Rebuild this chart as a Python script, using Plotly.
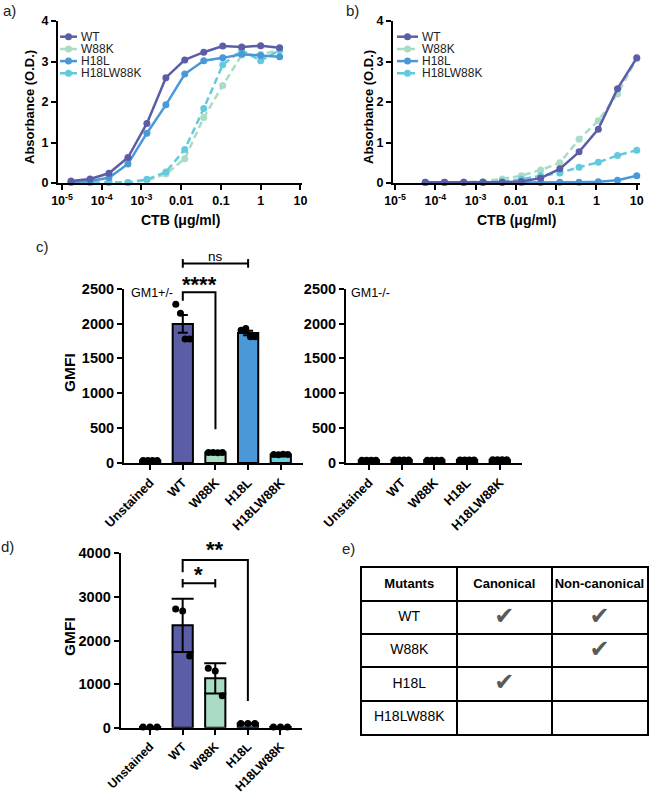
import numpy as np
import plotly.graph_objects as go

W, H = 650, 796
FONT = "Liberation Sans, Arial, sans-serif"

# ---------------- DATA ----------------
series = ["WT", "W88K", "H18L", "H18LW88K"]
series_colors = ["#5b5ea6", "#a8dcc5", "#4a98d8", "#62cadf"]
series_dash = ["solid", "7px,4px", "solid", "7px,4px"]

# panel a: CTB concentration (ug/ml)
conc_a = [1.69e-5, 5.08e-5, 1.52e-4, 4.57e-4, 1.37e-3, 4.12e-3,
          0.0123, 0.037, 0.111, 0.333, 1.0, 3.0]
abs_a_WT = [0.05, 0.10, 0.24, 0.63, 1.47, 2.60, 3.04, 3.23, 3.38, 3.36, 3.39, 3.34]
abs_a_W88K = [0.01, 0.01, 0.01, 0.01, 0.07, 0.22, 0.60, 1.62, 2.41, 3.16, 3.18, 3.28]
abs_a_H18L = [0.02, 0.05, 0.13, 0.47, 1.23, 1.93, 2.69, 3.02, 3.09, 3.18, 3.15, 3.12]
abs_a_H18LW88K = [0.02, 0.01, 0.01, 0.01, 0.09, 0.27, 0.83, 1.84, 2.92, 3.28, 3.02, 3.28]

# panel b
conc_b = [5.65e-5, 1.69e-4, 5.08e-4, 1.52e-3, 4.57e-3, 0.0137,
          0.0412, 0.123, 0.370, 1.11, 3.33, 10.0]
abs_b_WT = [0.02, 0.02, 0.02, 0.02, 0.02, 0.04, 0.12, 0.35, 0.77, 1.33, 2.33, 3.09]
abs_b_W88K = [0.02, 0.02, 0.02, 0.04, 0.10, 0.18, 0.32, 0.50, 1.08, 1.54, 2.20, 3.07]
abs_b_H18L = [0.01, 0.01, 0.01, 0.01, 0.01, 0.01, 0.01, 0.02, 0.02, 0.03, 0.07, 0.18]
abs_b_H18LW88K = [0.02, 0.02, 0.02, 0.02, 0.04, 0.09, 0.18, 0.25, 0.39, 0.51, 0.68, 0.81]

conc_ticks = [1e-5, 1e-4, 1e-3, 0.01, 0.1, 1, 10]
conc_ticktext = ["10<sup>-5</sup>", "10<sup>-4</sup>", "10<sup>-3</sup>", "0.01", "0.1", "1", "10"]

# panels c, d: GMFI per replicate
groups = ["Unstained", "WT", "W88K", "H18L", "H18LW88K"]
bar_colors = ["#ffffff", "#5b5ea6", "#a8dcc5", "#4a98d8", "#6dcfe0"]
gmfi_c_pos = [[35, 35, 35, 35], [2276, 2147, 1779, 1779], [150, 150, 148, 152],
              [1905, 1930, 1812, 1812], [122, 120, 125, 122]]
gmfi_c_neg = [[38, 38, 38, 38], [42, 42, 42, 42], [40, 40, 40, 40],
              [42, 42, 42, 42], [45, 45, 45, 45]]
gmfi_d = [[15, 15, 15], [2724, 2678, 1645], [1363, 1301, 734], [95, 95, 95], [15, 15, 15]]

# significance brackets: (from, to, level, left end, right end, label, style)
sig_c = [(1, 3, 2863, None, None, "ns", "cap"),
         (1, 2, 2448, 2328, 483, "****", "leg")]
sig_d = [(1, 3, 3849, 3566, 612, "**", "leg"),
         (1, 2, 3313, None, None, "*", "cap")]

# panel e table
table_header = ["Mutants", "Canonical", "Non-canonical"]
mutants = ["WT", "W88K", "H18L", "H18LW88K"]
canonical = [True, False, True, False]
non_canonical = [True, True, False, False]

# ---------------- LAYOUT HELPERS ----------------
def dx(p):
    return p / W


def dy(p):
    return 1 - p / H


def xdom(a, b):
    return [dx(a), dx(b)]


def ydom(top, bottom):
    return [dy(bottom), dy(top)]


def axis_style(size):
    return dict(showline=True, linecolor="black", linewidth=2, ticks="outside",
                ticklen=5, tickwidth=2, tickcolor="black", showgrid=False,
                zeroline=False, automargin=False,
                tickfont=dict(family=FONT, size=size, color="black", weight="bold"))


fig = go.Figure()
annotations = []

# ---------------- PANELS a, b ----------------
curves_a = [abs_a_WT, abs_a_W88K, abs_a_H18L, abs_a_H18LW88K]
curves_b = [abs_b_WT, abs_b_W88K, abs_b_H18L, abs_b_H18LW88K]
for xa, ya, conc, curves in [("x", "y", conc_a, curves_a), ("x2", "y2", conc_b, curves_b)]:
    for i in [1, 3, 2, 0]:
        fig.add_trace(go.Scatter(
            x=conc, y=curves[i], mode="lines+markers", name=series[i],
            line=dict(color=series_colors[i], width=2.5, dash=series_dash[i]),
            marker=dict(color=series_colors[i], size=7),
            cliponaxis=False, showlegend=False, xaxis=xa, yaxis=ya))

fig.update_layout(
    xaxis=dict(domain=xdom(58, 302), type="log", range=[-5.1, 1.04], anchor="y",
               tickvals=conc_ticks, ticktext=conc_ticktext, **axis_style(12.5)),
    yaxis=dict(domain=ydom(21, 183), range=[0, 4], dtick=1, anchor="x", **axis_style(12.5)),
    xaxis2=dict(domain=xdom(393, 640), type="log", range=[-5.05, 1.08], anchor="y2",
                tickvals=conc_ticks, ticktext=conc_ticktext, **axis_style(12.5)),
    yaxis2=dict(domain=ydom(21, 183), range=[0, 4], dtick=1, anchor="x2", **axis_style(12.5)),
)

# compact legends drawn on a pixel overlay axis
fig.update_layout(
    xaxis9=dict(domain=[0, 1], range=[0, W], visible=False, anchor="y9", automargin=False),
    yaxis9=dict(domain=[0, 1], range=[H, 0], visible=False, anchor="x9", automargin=False),
)
for (lx0, lx1, ltx) in [(60, 77, 79), (397, 418, 420)]:
    for i, s in enumerate(series):
        ly = 36.7 + 12.2 * i
        fig.add_trace(go.Scatter(
            x=[lx0, (lx0 + lx1) / 2, lx1], y=[ly, ly, ly], mode="lines",
            line=dict(color=series_colors[i], width=2.5, dash=series_dash[i]),
            showlegend=False, xaxis="x9", yaxis="y9", hoverinfo="skip"))
        fig.add_trace(go.Scatter(
            x=[(lx0 + lx1) / 2], y=[ly], mode="markers",
            marker=dict(color=series_colors[i], size=7),
            showlegend=False, xaxis="x9", yaxis="y9", hoverinfo="skip"))
        annotations.append(dict(x=ltx, y=ly, xref="x9", yref="y9", text=s,
                                showarrow=False, xanchor="left", yanchor="middle",
                                font=dict(family=FONT, size=12, color="#222")))

# ---------------- PANELS c, d ----------------
def swarm_offsets(vals, units_per_px, px_per_cat, thr_px=6, span_px=14):
    idx = sorted(range(len(vals)), key=lambda k: -vals[k])
    rows, cur = [], [idx[0]]
    for k in idx[1:]:
        if abs(vals[k] - vals[cur[0]]) / units_per_px < thr_px:
            cur.append(k)
        else:
            rows.append(cur)
            cur = [k]
    rows.append(cur)
    off = [0.0] * len(vals)
    for r in rows:
        r = sorted(r)
        n = len(r)
        if n > 1:
            for j, k in enumerate(r):
                off[k] = (-span_px / 2 + span_px * j / (n - 1)) / px_per_cat
    return off


def bar_panel(xa, ya, dots, err_kind, cap_w, xrng, xpx, yrng, ypx):
    units_per_px = (yrng[1] - yrng[0]) / (ypx[1] - ypx[0])
    px_per_cat = (xpx[1] - xpx[0]) / (xrng[1] - xrng[0])
    means = [float(np.mean(d)) for d in dots]
    sds = [float(np.std(d, ddof=1)) for d in dots]
    errs = sds if err_kind == "sd" else [s / np.sqrt(len(d)) for s, d in zip(sds, dots)]
    fig.add_trace(go.Bar(
        x=list(range(len(groups))), y=means, width=0.62,
        marker=dict(color=bar_colors, line=dict(color="black", width=2)),
        error_y=dict(type="data", array=errs, visible=True, color="black",
                     thickness=2, width=cap_w),
        showlegend=False, xaxis=xa, yaxis=ya))
    xs, ys = [], []
    for i, d in enumerate(dots):
        off = swarm_offsets(d, units_per_px, px_per_cat)
        xs += [i + o for o in off]
        ys += list(d)
    fig.add_trace(go.Scatter(x=xs, y=ys, mode="markers",
                             marker=dict(color="black", size=7),
                             cliponaxis=False, showlegend=False, xaxis=xa, yaxis=ya))


def cat_axis(domain_px, rng, anchor, size=13):
    return dict(domain=xdom(*domain_px), range=rng, anchor=anchor,
                tickvals=list(range(len(groups))), ticktext=groups, tickangle=-45,
                **axis_style(size))


c1x, c2x, dxp = (124, 303), (346, 522), (120.7, 302)
cy, d_y = (288.7, 463), (553.3, 727.7)
c1r, c2r, dr = [-0.8, 4.68], [-0.7, 4.68], [-0.9, 4.66]

bar_panel("x3", "y3", gmfi_c_pos, "sem", 5, c1r, c1x, [0, 2500], (cy[1], cy[0]))
bar_panel("x5", "y5", gmfi_c_neg, "sem", 5, c2r, c2x, [0, 2500], (cy[1], cy[0]))
bar_panel("x6", "y6", gmfi_d, "sd", 11, dr, dxp, [0, 4000], (d_y[1], d_y[0]))

fig.update_layout(
    xaxis3=cat_axis(c1x, c1r, "y3"),
    yaxis3=dict(domain=ydom(*cy), range=[0, 2500], dtick=500, anchor="x3", **axis_style(14.5)),
    xaxis5=cat_axis(c2x, c2r, "y5"),
    yaxis5=dict(domain=ydom(*cy), range=[0, 2500], dtick=500, anchor="x5", **axis_style(14.5)),
    xaxis6=cat_axis(dxp, dr, "y6", 12.2),
    yaxis6=dict(domain=ydom(*d_y), range=[0, 4000], dtick=1000, anchor="x6", **axis_style(14.5)),
)


# bracket overlay axes (taller, same scale) so lines above the axis top are not clipped
def overlay(xname, yname, xpx, xr, ypx, yr, top_px):
    span = yr[1] * (ypx[1] - top_px) / (ypx[1] - ypx[0])
    fig.layout[xname] = dict(domain=xdom(*xpx), range=xr, visible=False, automargin=False,
                             anchor=yname.replace("axis", ""))
    fig.layout[yname] = dict(domain=[dy(ypx[1]), dy(top_px)], range=[0, span], visible=False,
                             automargin=False, anchor=xname.replace("axis", ""))


overlay("xaxis4", "yaxis4", c1x, c1r, cy, [0, 2500], 235)
overlay("xaxis7", "yaxis7", dxp, dr, d_y, [0, 4000], 525)


def brackets(xa, ya, specs, cap, label_offsets):
    for (a, b, lev, yl, yr_, lab, style), (loff, bold, fsz) in zip(specs, label_offsets):
        if style == "leg":
            xs, ys = [a, a, b, b], [yl, lev, lev, yr_]
        else:
            xs = [a, a, None, a, b, None, b, b]
            ys = [lev - cap, lev + cap, None, lev, lev, None, lev - cap, lev + cap]
        fig.add_trace(go.Scatter(x=xs, y=ys, mode="lines", line=dict(color="black", width=2),
                                 showlegend=False, xaxis=xa, yaxis=ya, hoverinfo="skip"))
        annotations.append(dict(x=(a + b) / 2, y=lev + loff, xref=xa, yref=ya, text=lab,
                                showarrow=False, yanchor="middle",
                                font=dict(family=FONT, size=fsz, color="black",
                                          weight="bold" if bold else "normal")))


brackets("x4", "y4", sig_c, 62, [(105, False, 13.5), (110, True, 22)])
brackets("x7", "y7", sig_d, 100, [(230, True, 22), (190, True, 22)])

# ---------------- PANEL e: table ----------------
fig.update_layout(
    xaxis8=dict(domain=xdom(361.7, 647), range=[-0.5, 2.5], anchor="y8", automargin=False,
                tickvals=[-0.5, 0.5, 1.5, 2.5], showgrid=True, gridcolor="black", gridwidth=1.5,
                showticklabels=False, ticks="", zeroline=False,
                showline=True, mirror=True, linecolor="black", linewidth=2),
    yaxis8=dict(domain=ydom(567.7, 734), range=[4.5, -0.5], anchor="x8", automargin=False,
                tickvals=[-0.5, 0.5, 1.5, 2.5, 3.5, 4.5], showgrid=True, gridcolor="black",
                gridwidth=1.5, showticklabels=False, ticks="", zeroline=False,
                showline=True, mirror=True, linecolor="black", linewidth=2),
)
fig.add_trace(go.Scatter(x=[0, 1, 2], y=[0, 0, 0], mode="text", text=table_header,
                         textfont=dict(family=FONT, size=13, color="black", weight="bold"),
                         showlegend=False, xaxis="x8", yaxis="y8", hoverinfo="skip"))
fig.add_trace(go.Scatter(x=[0] * len(mutants), y=[i + 1 for i in range(len(mutants))],
                         mode="text", text=mutants,
                         textfont=dict(family=FONT, size=14, color="black"),
                         showlegend=False, xaxis="x8", yaxis="y8", hoverinfo="skip"))
chk_x, chk_y = [], []
for i in range(len(mutants)):
    if canonical[i]:
        chk_x.append(1); chk_y.append(i + 1)
    if non_canonical[i]:
        chk_x.append(2); chk_y.append(i + 1)
fig.add_trace(go.Scatter(x=chk_x, y=chk_y, mode="text", text=["\u2714"] * len(chk_x),
                         textfont=dict(family="DejaVu Sans", size=24, color="#5a5a5a"),
                         showlegend=False, xaxis="x8", yaxis="y8", hoverinfo="skip"))


# ---------------- TEXT LABELS ----------------
def ann(x, y, text, size=14, bold=True, angle=0, xanchor="center", color="black"):
    annotations.append(dict(x=dx(x), y=dy(y), xref="paper", yref="paper", text=text,
                            showarrow=False, xanchor=xanchor, yanchor="middle", textangle=angle,
                            font=dict(family=FONT, size=size, color=color,
                                      weight="bold" if bold else "normal")))


ann(29, 107, "Absorbance (O.D.)", 13, angle=-90)
ann(368, 107, "Absorbance (O.D.)", 13, angle=-90)
ann(180, 220, "CTB (\u03bcg/ml)", 14)
ann(516, 220, "CTB (\u03bcg/ml)", 14)
ann(69, 373, "GMFI", 15.5, angle=-90)
ann(69, 637, "GMFI", 15.5, angle=-90)
ann(129, 293, "GM1+/-", 12.5, bold=False, xanchor="left")
ann(349, 293, "GM1-/-", 12.5, bold=False, xanchor="left")
for t, x, y in [("a)", 9, 11), ("b)", 352, 11), ("c)", 42, 246), ("d)", 7, 546), ("e)", 348, 548)]:
    ann(x, y, t, 15, bold=False, color="#222")

fig.update_layout(template="none", width=W, height=H, margin=dict(l=0, r=0, t=0, b=0),
                  paper_bgcolor="white", plot_bgcolor="rgba(0,0,0,0)",
                  showlegend=False, annotations=annotations,
                  font=dict(family=FONT, color="black"))

fig.write_html("out.html", config={"displayModeBar": False},
               post_script="document.body.style.margin='0px';document.body.style.overflow='hidden';")
